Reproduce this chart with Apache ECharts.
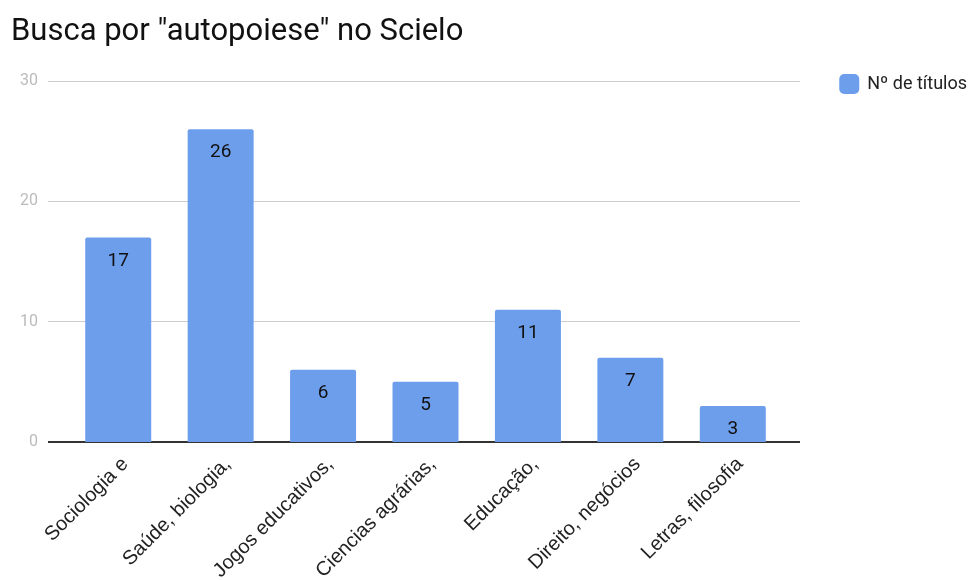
<!DOCTYPE html>
<html><head><meta charset="utf-8">
<script src="https://cdn.jsdelivr.net/npm/echarts@6/dist/echarts.min.js"></script>
<style>html,body{margin:0;padding:0;background:#fff}#c{width:975px;height:580px}</style>
</head><body><div id="c"></div>
<script>
const categories = ["Sociologia e", "Saúde, biologia,", "Jogos educativos,", "Ciencias agrárias,", "Educação,", "Direito, negócios", "Letras, filosofia"];
const values = [17, 26, 6, 5, 11, 7, 3];
const seriesName = "Nº de títulos";
const titleText = 'Busca por "autopoiese" no Scielo';
const yTicks = [0, 10, 20, 30];

const chart = echarts.init(document.getElementById('c'));
const font = 'Roboto, "Noto Sans", sans-serif';
chart.setOption({
  animation: false,
  title: { text: titleText, left: 6, top: 12, textStyle: { fontFamily: font, fontSize: 31, fontWeight: 'normal', color: '#111' } },
  legend: { right: 3, top: 69, itemWidth: 20, itemHeight: 20, itemGap: 10, icon: 'roundRect',
    textStyle: { fontFamily: font, fontSize: 18, color: '#222', padding: [0, 0, 0, 3] }, data: [seriesName] },
  grid: [
    { left: 48, right: 175, top: 81, bottom: 138, containLabel: false, outerBoundsMode: 'none' },
    { left: 67, right: 191, top: 81, bottom: 138, containLabel: false, outerBoundsMode: 'none' }
  ],
  xAxis: [
    { gridIndex: 0, type: 'value', min: 0, max: 1, show: true, axisLine: { show: false }, axisTick: { show: false }, axisLabel: { show: false }, splitLine: { show: false } },
    { gridIndex: 1, type: 'category', data: categories, axisLine: { show: false }, axisTick: { show: false },
      axisLabel: { rotate: 45, interval: 0, margin: 12, verticalAlign: 'top', fontFamily: '"Liberation Sans", Arial, sans-serif', fontSize: 20, color: '#222' } }
  ],
  yAxis: [
    { gridIndex: 0, type: 'value', min: yTicks[0], max: yTicks[yTicks.length-1], interval: 10,
      axisLine: { show: false }, axisTick: { show: false },
      axisLabel: { fontFamily: font, fontSize: 16, color: '#bbb', margin: 10 },
      splitLine: { lineStyle: { color: '#ccc', width: 1 } } },
    { gridIndex: 1, type: 'value', min: yTicks[0], max: yTicks[yTicks.length-1], interval: 10, show: false, splitLine: { show: false } }
  ],
  series: [
    { type: 'line', xAxisIndex: 0, yAxisIndex: 0, data: [[0, 0], [1, 0]], symbol: 'none', silent: true,
      lineStyle: { color: '#333', width: 2 }, z: 1, legendHoverLink: false },
    { name: seriesName, type: 'bar', xAxisIndex: 1, yAxisIndex: 1, data: values, barWidth: 66, z: 3,
      itemStyle: { color: '#6d9eeb', borderRadius: [2, 2, 0, 0] },
      label: { show: true, position: 'insideTop', distance: 14, fontFamily: font, fontSize: 19, color: '#111' } }
  ]
});
</script></body></html>
